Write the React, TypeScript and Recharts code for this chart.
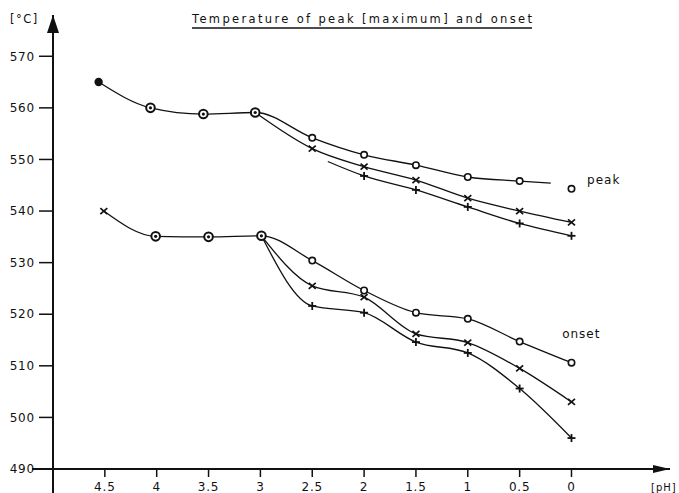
import React from 'react';
import { LineChart, Line, XAxis, YAxis, ReferenceDot } from 'recharts';

// pH tick labels (axis runs from high pH on the left to low pH on the right)
const PH_TICKS = [4.5, 4, 3.5, 3, 2.5, 2, 1.5, 1, 0.5, 0];
const TEMP_TICKS = [490, 500, 510, 520, 530, 540, 550, 560, 570];

// Peak temperature, series "o"
const PEAK_O_PH = [4.56, 4.06, 3.55, 3.05, 2.5, 2, 1.5, 1, 0.5, 0.2, 0.1, 0];
const PEAK_O_T = [565, 560, 558.8, 559.1, 554.2, 550.9, 548.9, 546.6, 545.8, 545.4, null, 544.3];
const PEAK_O_M = ['dot', 'ring', 'ring', 'ring', 'o', 'o', 'o', 'o', 'o', 'none', 'none', 'o'];

// Peak temperature, series "x"
const PEAK_X_PH = [3.05, 2.5, 2, 1.5, 1, 0.5, 0];
const PEAK_X_T = [559.1, 552.1, 548.6, 546, 542.5, 540, 537.8];
const PEAK_X_M = ['none', 'x', 'x', 'x', 'x', 'x', 'x'];

// Peak temperature, series "+"
const PEAK_P_PH = [2.35, 2, 1.5, 1, 0.5, 0];
const PEAK_P_T = [549.6, 546.8, 544.1, 540.8, 537.6, 535.2];
const PEAK_P_M = ['none', '+', '+', '+', '+', '+'];

// Onset temperature, series "o"
const ONSET_O_PH = [4.51, 4.01, 3.5, 2.99, 2.5, 2, 1.5, 1, 0.5, 0];
const ONSET_O_T = [540, 535.1, 535, 535.2, 530.4, 524.6, 520.3, 519.1, 514.7, 510.6];
const ONSET_O_M = ['x', 'ring', 'ring', 'ring', 'o', 'o', 'o', 'o', 'o', 'o'];

// Onset temperature, series "x"
const ONSET_X_PH = [2.99, 2.5, 2, 1.5, 1, 0.5, 0];
const ONSET_X_T = [535.2, 525.5, 523.3, 516.2, 514.5, 509.5, 503];
const ONSET_X_M = ['none', 'x', 'x', 'x', 'x', 'x', 'x'];

// Onset temperature, series "+"
const ONSET_P_PH = [2.99, 2.5, 2, 1.5, 1, 0.5, 0];
const ONSET_P_T = [535.2, 521.6, 520.3, 514.6, 512.5, 505.6, 496];
const ONSET_P_M = ['none', '+', '+', '+', '+', '+', '+'];

const mk = (ph: number[], t: (number | null)[], m: string[]) =>
  ph.map((x, i) => ({ x, y: t[i], m: m[i] }));

const peakO = mk(PEAK_O_PH, PEAK_O_T, PEAK_O_M);
const peakX = mk(PEAK_X_PH, PEAK_X_T, PEAK_X_M);
const peakP = mk(PEAK_P_PH, PEAK_P_T, PEAK_P_M);
const onsetO = mk(ONSET_O_PH, ONSET_O_T, ONSET_O_M);
const onsetX = mk(ONSET_X_PH, ONSET_X_T, ONSET_X_M);
const onsetP = mk(ONSET_P_PH, ONSET_P_T, ONSET_P_M);

const INK = '#111';
const FONT = "'DejaVu Sans', sans-serif";

const renderMarker = (props: any) => {
  const { cx, cy, payload, index } = props;
  const key = `m-${index}-${cx}-${cy}`;
  if (cx == null || cy == null || !payload || payload.y == null) return <g key={key} />;
  const m = payload.m;
  if (m === 'dot') return <circle key={key} cx={cx} cy={cy} r={4.2} fill={INK} />;
  if (m === 'ring')
    return (
      <g key={key}>
        <circle cx={cx} cy={cy} r={4.3} fill="#fff" stroke={INK} strokeWidth={2} />
        <circle cx={cx} cy={cy} r={1.6} fill={INK} />
      </g>
    );
  if (m === 'o') return <circle key={key} cx={cx} cy={cy} r={3.2} fill="#fff" stroke={INK} strokeWidth={1.6} />;
  if (m === 'x')
    return (
      <g key={key} stroke={INK} strokeWidth={1.7}>
        <line x1={cx - 3.5} y1={cy - 3} x2={cx + 3.5} y2={cy + 3} />
        <line x1={cx - 3.5} y1={cy + 3} x2={cx + 3.5} y2={cy - 3} />
      </g>
    );
  if (m === '+')
    return (
      <g key={key} stroke={INK} strokeWidth={1.8}>
        <line x1={cx - 4} y1={cy} x2={cx + 4} y2={cy} />
        <line x1={cx} y1={cy - 4} x2={cx} y2={cy + 4} />
      </g>
    );
  return <g key={key} />;
};

const series = [peakO, peakX, peakP, onsetO, onsetX, onsetP];

export default function App() {
  return (
    <div style={{ position: 'absolute', left: 0, top: 0, width: 679, height: 493, background: '#fff' }}>
      <LineChart
        width={679}
        height={493}
        margin={{ top: 15, right: 9, bottom: 0, left: 0 }}
      >
        <XAxis
          type="number"
          dataKey="x"
          domain={[-0.95, 5]}
          reversed
          allowDataOverflow
          ticks={PH_TICKS}
          interval={0}
          height={24}
          tickSize={8}
          tickMargin={5}
          axisLine={{ stroke: INK, strokeWidth: 2 }}
          tickLine={{ stroke: INK, strokeWidth: 1.5 }}
          tick={{ fill: INK, fontSize: 12, fontFamily: FONT, letterSpacing: 0.8 }}
        />
        <YAxis
          type="number"
          domain={[490, 578]}
          allowDataOverflow
          ticks={TEMP_TICKS}
          interval={0}
          width={53}
          tickSize={14}
          tickMargin={4}
          axisLine={{ stroke: INK, strokeWidth: 2 }}
          tickLine={{ stroke: INK, strokeWidth: 1.5 }}
          tick={{ fill: INK, fontSize: 12, fontFamily: FONT, letterSpacing: 0.8 }}
        />
        {series.map((d, i) => (
          <Line
            key={i}
            data={d}
            dataKey="y"
            type="monotone"
            stroke={INK}
            strokeWidth={1.3}
            connectNulls={false}
            dot={renderMarker}
            activeDot={false}
            isAnimationActive={false}
          />
        ))}
        {/* x-axis arrow */}
        <ReferenceDot
          x={-0.95}
          y={490}
          ifOverflow="visible"
          shape={(p: any) => (
            <path d={`M${p.cx},${p.cy} L${p.cx - 17},${p.cy - 4} L${p.cx - 17},${p.cy + 4} Z`} fill={INK} />
          )}
        />
        {/* y-axis arrow and axis extensions past the origin */}
        <ReferenceDot
          x={5}
          y={578}
          ifOverflow="visible"
          shape={(p: any) => (
            <path d={`M${p.cx},${p.cy} L${p.cx - 6},${p.cy + 18} L${p.cx + 6},${p.cy + 18} Z`} fill={INK} />
          )}
        />
        <ReferenceDot
          x={5}
          y={490}
          ifOverflow="visible"
          shape={(p: any) => (
            <g stroke={INK} strokeWidth={2}>
              <line x1={p.cx - 21} y1={p.cy} x2={p.cx} y2={p.cy} />
              <line x1={p.cx} y1={p.cy} x2={p.cx} y2={p.cy + 24} />
            </g>
          )}
        />
        <ReferenceDot
          x={-0.15}
          y={545.2}
          ifOverflow="visible"
          shape={(p: any) => (
            <text x={p.cx} y={p.cy} fill={INK} fontSize={12} fontFamily={FONT} letterSpacing={1}>
              peak
            </text>
          )}
        />
        <ReferenceDot
          x={0.09}
          y={515.4}
          ifOverflow="visible"
          shape={(p: any) => (
            <text x={p.cx} y={p.cy} fill={INK} fontSize={12} fontFamily={FONT} letterSpacing={1}>
              onset
            </text>
          )}
        />
      </LineChart>
      <svg
        width={679}
        height={493}
        style={{ position: 'absolute', left: 0, top: 0, pointerEvents: 'none' }}
      >
        <text x={192} y={23} fill={INK} fontSize={11.5} fontFamily={FONT} textLength={340} lengthAdjust="spacing">
          Temperature of peak [maximum] and onset
        </text>
        <line x1={192} y1={28} x2={532} y2={28} stroke={INK} strokeWidth={1.3} />
        <text x={10} y={23} fill={INK} fontSize={11.5} fontFamily={FONT} letterSpacing={1.5}>
          [°C]
        </text>
        <text x={651} y={491} fill={INK} fontSize={10} fontFamily={FONT} letterSpacing={1}>
          [pH]
        </text>
      </svg>
    </div>
  );
}
